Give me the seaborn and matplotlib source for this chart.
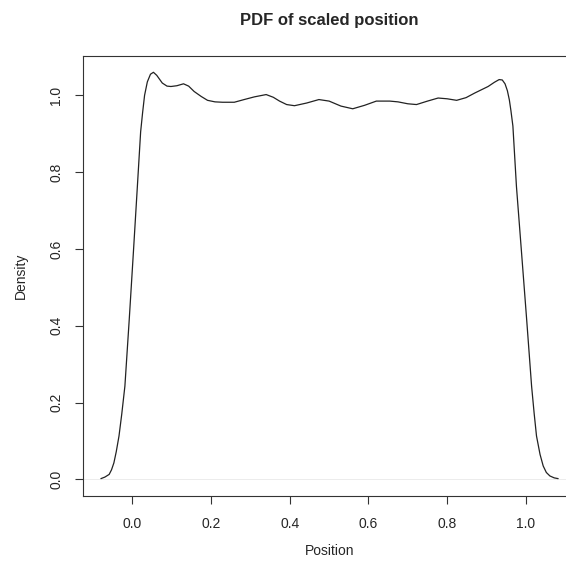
"""Kernel density of scaled position, redrawn in the style of an R density plot."""

import matplotlib
matplotlib.use('Agg')
import matplotlib.pyplot as plt
import seaborn as sns
import pandas as pd

# Density curve
position = [-0.080, -0.070, -0.059, -0.053, -0.047, -0.041, -0.034, -0.027,
            -0.019, -0.008, 0.0025, 0.0127, 0.021, 0.026, 0.031, 0.038,
            0.046, 0.0535, 0.062, 0.076, 0.088, 0.098, 0.113, 0.130, 0.143,
            0.157, 0.175, 0.191, 0.210, 0.229, 0.259, 0.284, 0.310, 0.340,
            0.358, 0.374, 0.392, 0.412, 0.443, 0.474, 0.500, 0.530, 0.560,
            0.590, 0.620, 0.654, 0.675, 0.700, 0.722, 0.750, 0.777, 0.800,
            0.824, 0.848, 0.870, 0.904, 0.920, 0.932, 0.940, 0.947, 0.953,
            0.958, 0.962, 0.967, 0.976, 0.989, 1.002, 1.0145, 1.021, 1.027,
            1.036, 1.044, 1.052, 1.061, 1.072, 1.082]
density = [0.002, 0.006, 0.013, 0.025, 0.043, 0.072, 0.113, 0.170,
           0.243, 0.416, 0.590, 0.763, 0.905, 0.955, 1.000, 1.035,
           1.055, 1.060, 1.052, 1.032, 1.024, 1.023, 1.025, 1.030, 1.024,
           1.010, 0.997, 0.987, 0.983, 0.982, 0.982, 0.989, 0.996, 1.002,
           0.995, 0.985, 0.976, 0.973, 0.980, 0.989, 0.985, 0.972, 0.965,
           0.974, 0.985, 0.985, 0.983, 0.978, 0.976, 0.985, 0.993, 0.991,
           0.987, 0.994, 1.006, 1.023, 1.034, 1.041, 1.040, 1.030, 1.012,
           0.988, 0.960, 0.920, 0.763, 0.590, 0.416, 0.243, 0.172, 0.113,
           0.065, 0.035, 0.018, 0.009, 0.004, 0.002]

x_ticks = [0.0, 0.2, 0.4, 0.6, 0.8, 1.0]
y_ticks = [0.0, 0.2, 0.4, 0.6, 0.8, 1.0]

sns.set_style('white')
plt.rcParams['font.family'] = ['Liberation Sans', 'DejaVu Sans']

df = pd.DataFrame({'Position': position, 'Density': density})

fig = plt.figure(figsize=(5.66, 5.68), dpi=100)
ax = fig.add_axes([0.146, 0.1273, 0.871, 0.7741])

ax.axhline(0, color='#dddddd', lw=0.4, zorder=1)
sns.lineplot(data=df, x='Position', y='Density', estimator=None, sort=False,
             color='#222222', lw=0.9, ax=ax)

ax.set_xlim(-0.1264, 1.1264)
ax.set_ylim(-0.0424, 1.1024)
ax.set_xticks(x_ticks)
ax.set_yticks(y_ticks)
ax.set_xticklabels([f'{t:.1f}' for t in x_ticks], fontsize=10)
ax.set_yticklabels([f'{t:.1f}' for t in y_ticks], fontsize=10,
                   rotation=90, va='center')
ax.tick_params(axis='x', direction='out', length=6, width=0.8,
               color='#333333', pad=9.5, bottom=True)
ax.tick_params(axis='y', direction='out', length=6, width=0.8,
               color='#333333', pad=8, left=True)

for side in ['left', 'bottom', 'top', 'right']:
    ax.spines[side].set_visible(True)
    ax.spines[side].set_color('#333333')
    ax.spines[side].set_linewidth(0.8)

ax.set_xlabel('Position', fontsize=10, labelpad=9)
ax.set_ylabel('Density', fontsize=10, labelpad=15)
ax.set_title('PDF of scaled position', fontsize=12, fontweight='bold', pad=22)

fig.savefig('out.png', dpi=100)
